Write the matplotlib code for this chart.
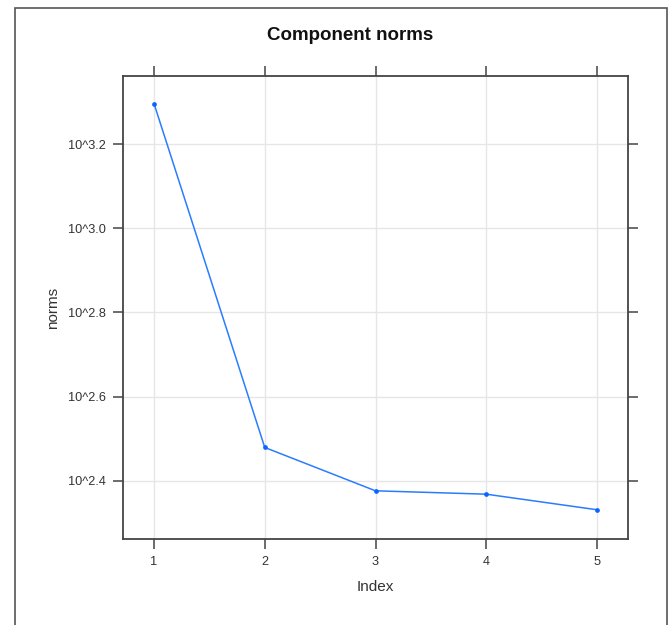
import matplotlib
matplotlib.use("Agg")
import matplotlib.pyplot as plt
import numpy as np
from matplotlib.patches import Rectangle

index = [1, 2, 3, 4, 5]
log_norms = [3.296, 2.479, 2.376, 2.368, 2.331]
yticks = [2.4, 2.6, 2.8, 3.0, 3.2]
ytick_labels = ["10^2.4", "10^2.6", "10^2.8", "10^3.0", "10^3.2"]

plt.rcParams['font.family'] = ['Liberation Sans', 'DejaVu Sans']

W, H = 669, 625
fig = plt.figure(figsize=(W / 100, H / 100), dpi=100)
fig.patch.set_facecolor("white")

# outer frame
fig.patches.append(Rectangle((15 / W, -0.01), (667 - 15) / W, (H - 8) / H + 0.01,
                             transform=fig.transFigure, fill=False,
                             edgecolor="#555555", linewidth=1.2))

left, right, top, bottom = 123, 628, 76, 539
ax = fig.add_axes([left / W, 1 - bottom / H, (right - left) / W, (bottom - top) / H])

ax.grid(True, color="#e6e6e6", linewidth=1.0)
ax.set_axisbelow(True)
ax.plot(index, log_norms, color="#2a7cff", linewidth=1.1, marker="o",
        markersize=3.4, markerfacecolor="#0a64ff", markeredgewidth=0)

ax.set_xlim(0.72, 5.28)
ax.set_ylim(2.2615, 3.3616)
ax.set_xticks(index)
ax.set_yticks(yticks)
ax.set_yticklabels(ytick_labels)

for s in ax.spines.values():
    s.set_color("#444444")
    s.set_linewidth(1.3)

ax.tick_params(axis="both", direction="out", length=7, width=1.1, color="#444444",
               labelsize=9.2, labelcolor="#333333", pad=5,
               top=True, right=True, labeltop=False, labelright=False)

ax.set_xlabel("Index", fontsize=11, color="#333333", labelpad=9)
ax.set_ylabel("norms", fontsize=11, color="#333333", labelpad=6)
fig.text(350 / W, 1 - 36 / H, "Component norms", ha="center", va="center",
         fontsize=13.5, fontweight="bold", color="#111111")

fig.savefig("out.png", dpi=100)
